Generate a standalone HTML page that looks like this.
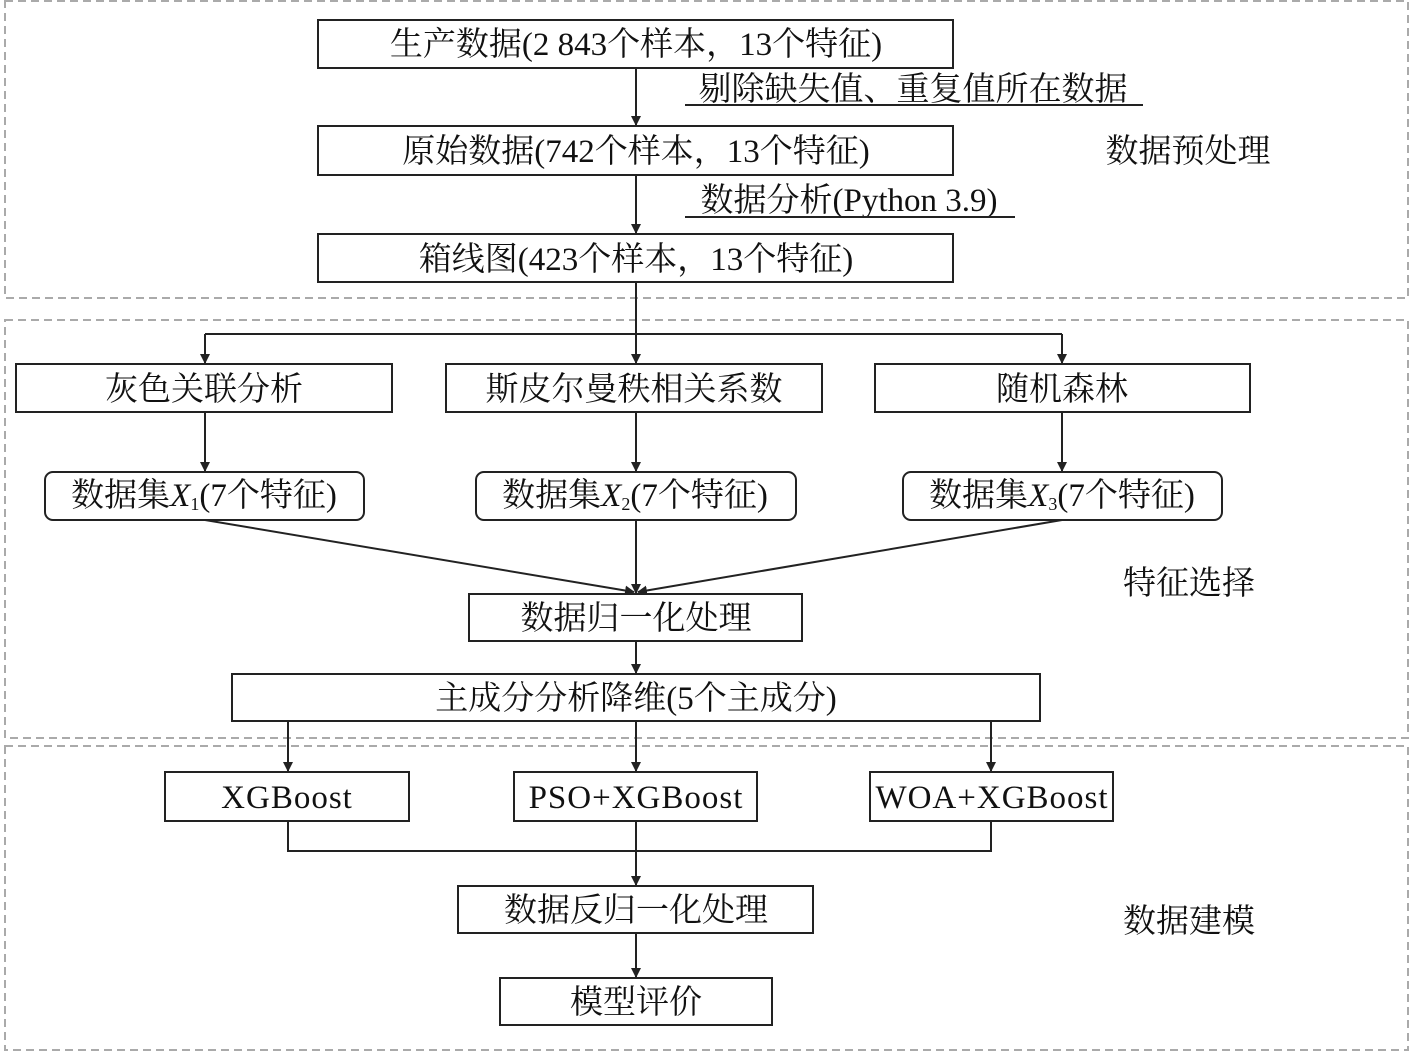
<!DOCTYPE html>
<html><head><meta charset="utf-8"><style>
html,body{margin:0;padding:0;background:#fff;}
svg{display:block;}
text{font-family:"Liberation Serif","Noto Serif CJK SC","Noto Sans CJK SC",serif;font-size:33px;fill:#111;text-anchor:middle;dominant-baseline:central;}
.r{fill:#fff;stroke:#222;stroke-width:2;}
.d{fill:none;stroke:#aaa;stroke-width:2;stroke-dasharray:8,5;}
.l{stroke:#222;stroke-width:2;fill:none;}
</style></head><body>
<svg width="1413" height="1055" viewBox="0 0 1413 1055" xmlns="http://www.w3.org/2000/svg">
<defs><marker id="a" markerWidth="10" markerHeight="10" refX="9" refY="5" orient="auto" markerUnits="userSpaceOnUse"><path d="M0,0 L10,5 L0,10 z" fill="#222"/></marker></defs>
<rect class="d" x="5" y="1" width="1403" height="297"/>
<rect class="d" x="5" y="320" width="1403" height="418"/>
<rect class="d" x="5" y="746" width="1403" height="304"/>

<rect class="r" x="318" y="20" width="635" height="48"/>
<text x="636" y="45">生产数据(2 843个样本，13个特征)</text>
<line class="l" x1="636" y1="68" x2="636" y2="125" marker-end="url(#a)"/>
<text x="913" y="90">剔除缺失值、重复值所在数据</text>
<line class="l" x1="685" y1="105" x2="1143" y2="105"/>
<rect class="r" x="318" y="126" width="635" height="49"/>
<text x="636" y="152">原始数据(742个样本，13个特征)</text>
<line class="l" x1="636" y1="175" x2="636" y2="233" marker-end="url(#a)"/>
<text x="849" y="201">数据分析(Python 3.9)</text>
<line class="l" x1="685" y1="217" x2="1015" y2="217"/>
<rect class="r" x="318" y="234" width="635" height="48"/>
<text x="636" y="260">箱线图(423个样本，13个特征)</text>
<text x="1188" y="152">数据预处理</text>

<polyline class="l" points="636,282 636,334"/>
<line class="l" x1="205" y1="334" x2="1062" y2="334"/>
<line class="l" x1="205" y1="334" x2="205" y2="363" marker-end="url(#a)"/>
<line class="l" x1="636" y1="334" x2="636" y2="363" marker-end="url(#a)"/>
<line class="l" x1="1062" y1="334" x2="1062" y2="363" marker-end="url(#a)"/>

<rect class="r" x="16" y="364" width="376" height="48"/><text x="204" y="390">灰色关联分析</text>
<rect class="r" x="446" y="364" width="376" height="48"/><text x="634" y="390">斯皮尔曼秩相关系数</text>
<rect class="r" x="875" y="364" width="375" height="48"/><text x="1062" y="390">随机森林</text>
<line class="l" x1="205" y1="412" x2="205" y2="471" marker-end="url(#a)"/>
<line class="l" x1="636" y1="412" x2="636" y2="471" marker-end="url(#a)"/>
<line class="l" x1="1062" y1="412" x2="1062" y2="471" marker-end="url(#a)"/>

<rect class="r" x="45" y="472" width="319" height="48" rx="8"/>
<text x="204" y="496">数据集<tspan font-style="italic">X</tspan><tspan font-size="18" dy="8">1</tspan><tspan dy="-8">(7个特征)</tspan></text>
<rect class="r" x="476" y="472" width="320" height="48" rx="8"/>
<text x="635" y="496">数据集<tspan font-style="italic">X</tspan><tspan font-size="18" dy="8">2</tspan><tspan dy="-8">(7个特征)</tspan></text>
<rect class="r" x="903" y="472" width="319" height="48" rx="8"/>
<text x="1062" y="496">数据集<tspan font-style="italic">X</tspan><tspan font-size="18" dy="8">3</tspan><tspan dy="-8">(7个特征)</tspan></text>

<line class="l" x1="205" y1="520" x2="634" y2="592" marker-end="url(#a)"/>
<line class="l" x1="636" y1="520" x2="636" y2="593" marker-end="url(#a)"/>
<line class="l" x1="1062" y1="520" x2="638" y2="592" marker-end="url(#a)"/>
<text x="1189" y="584">特征选择</text>

<rect class="r" x="469" y="594" width="333" height="47"/><text x="636" y="619">数据归一化处理</text>
<line class="l" x1="636" y1="641" x2="636" y2="673" marker-end="url(#a)"/>
<rect class="r" x="232" y="674" width="808" height="47"/><text x="636" y="699">主成分分析降维(5个主成分)</text>
<line class="l" x1="288" y1="721" x2="288" y2="771" marker-end="url(#a)"/>
<line class="l" x1="636" y1="721" x2="636" y2="771" marker-end="url(#a)"/>
<line class="l" x1="991" y1="721" x2="991" y2="771" marker-end="url(#a)"/>

<rect class="r" x="165" y="772" width="244" height="49"/><text x="287" y="798" style="letter-spacing:1px">XGBoost</text>
<rect class="r" x="514" y="772" width="243" height="49"/><text x="636" y="798" style="letter-spacing:1px">PSO+XGBoost</text>
<rect class="r" x="870" y="772" width="243" height="49"/><text x="992" y="798" style="letter-spacing:1px">WOA+XGBoost</text>
<polyline class="l" points="288,821 288,851 991,851 991,821"/>
<line class="l" x1="636" y1="821" x2="636" y2="885" marker-end="url(#a)"/>

<rect class="r" x="458" y="886" width="355" height="47"/><text x="636" y="911">数据反归一化处理</text>
<line class="l" x1="636" y1="933" x2="636" y2="977" marker-end="url(#a)"/>
<rect class="r" x="500" y="978" width="272" height="47"/><text x="636" y="1003">模型评价</text>
<text x="1189" y="922">数据建模</text>
</svg>
</body></html>
